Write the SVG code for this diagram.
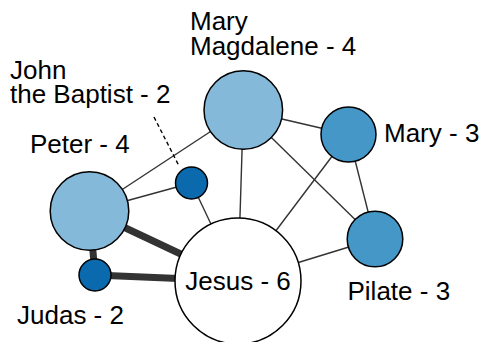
<svg xmlns="http://www.w3.org/2000/svg" width="479" height="342" viewBox="0 0 479 342">
<style>
.lbl{font-family:"Liberation Sans",Arial,sans-serif;font-size:26px;fill:#000}
.e{stroke:#333;stroke-width:1.4;fill:none}
.t{stroke:#333;stroke-width:7;fill:none}
.n{stroke:#000;stroke-width:1.5}
.c1{fill:#84b9da}
.c2{fill:#4597c7}
.c3{fill:#0a6aad}
.c0{fill:#fff}
</style>
<rect width="479" height="342" fill="#fff"/>
<g id="edges">
<line class="e" x1="89.5" y1="211" x2="243.3" y2="110"/>
<line class="e" x1="89.5" y1="211" x2="191.5" y2="183"/>
<line class="t" x1="89.5" y1="211" x2="238" y2="281"/>
<line class="t" x1="89.5" y1="211" x2="95" y2="275"/>
<line class="t" x1="95" y1="275" x2="238" y2="281"/>
<line class="e" x1="191.5" y1="183" x2="238" y2="281"/>
<line class="e" x1="243.3" y1="110" x2="238" y2="281"/>
<line class="e" x1="243.3" y1="110" x2="348.5" y2="134.5"/>
<line class="e" x1="243.3" y1="110" x2="375" y2="239"/>
<line class="e" x1="348.5" y1="134.5" x2="238" y2="281"/>
<line class="e" x1="348.5" y1="134.5" x2="375" y2="239"/>
<line class="e" x1="375" y1="239" x2="238" y2="281"/>
<line x1="154" y1="117" x2="179" y2="166" stroke="#000" stroke-width="1.4" stroke-dasharray="4,3"/>
</g>
<g id="jesus">
<circle class="n c0" cx="238" cy="281" r="63"/>
<text class="lbl" x="238" y="290" text-anchor="middle">Jesus - 6</text>
</g>
<g id="mary-magdalene">
<circle class="n c1" cx="243.3" cy="110" r="39.3"/>
<text class="lbl" x="190" y="30">Mary<tspan x="190" dy="25">Magdalene - 4</tspan></text>
</g>
<g id="peter">
<circle class="n c1" cx="89.5" cy="211" r="39.3"/>
<text class="lbl" x="30" y="153">Peter - 4</text>
</g>
<g id="mary">
<circle class="n c2" cx="348.5" cy="134.5" r="27.5"/>
<text class="lbl" x="384" y="142">Mary - 3</text>
</g>
<g id="pilate">
<circle class="n c2" cx="375" cy="239" r="27.8"/>
<text class="lbl" x="347.5" y="300">Pilate - 3</text>
</g>
<g id="john">
<circle class="n c3" cx="191.5" cy="183" r="16"/>
<text class="lbl" x="10" y="79">John<tspan x="10" dy="24">the Baptist - 2</tspan></text>
</g>
<g id="judas">
<circle class="n c3" cx="95" cy="275" r="16"/>
<text class="lbl" x="17" y="324">Judas - 2</text>
</g>
</svg>
